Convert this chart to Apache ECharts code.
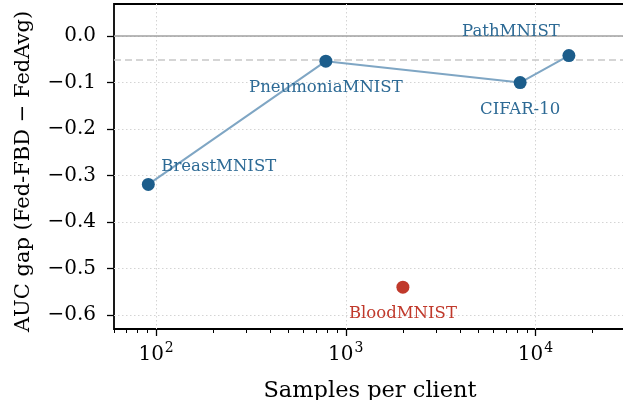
<!DOCTYPE html>
<html>
<head>
<meta charset="utf-8" />
<title>AUC gap vs samples per client</title>
<script src="https://cdn.jsdelivr.net/npm/echarts@6/dist/echarts.min.js"></script>
<style>
  html, body { margin: 0; padding: 0; background: #fff; }
  #chart { width: 623px; height: 400px; }
</style>
</head>
<body>
<div id="chart"></div>
<script>
// datasets joined by the line (sorted by samples per client)
var datasets = ['BreastMNIST', 'PneumoniaMNIST', 'CIFAR-10', 'PathMNIST'];
var samples = [91, 785, 8300, 15000];
var gaps = [-0.319, -0.054, -0.100, -0.042];

// outlier drawn on its own
var outlierNames = ['BloodMNIST'];
var outlierSamples = [2000];
var outlierGaps = [-0.540];

// reference lines
var zeroLine = 0;
var refLine = -0.05;

// ticks
var yTicks = [-0.6, -0.5, -0.4, -0.3, -0.2, -0.1, 0.0];
var xMajorTicks = [100, 1000, 10000];
var xMinorTicks = [60, 70, 80, 90, 200, 300, 400, 500, 600, 700, 800, 900,
                   2000, 3000, 4000, 5000, 6000, 7000, 8000, 9000, 20000, 30000];

var FONT = '"DejaVu Serif", serif';
var GRID_TOP = 4, GRID_BOTTOM = 71, H = 400;

// label placement per dataset (offset from the marker centre)
var labelPlace = {
  'BreastMNIST':    { offset: [13, -18], align: 'left' },
  'PneumoniaMNIST': { offset: [0, 27], align: 'center' },
  'CIFAR-10':       { offset: [0, 27], align: 'center' },
  'PathMNIST':      { offset: [-58, -24], align: 'center' },
  'BloodMNIST':     { offset: [0, 27], align: 'center' }
};

function pointData(names, xs, ys, color) {
  return names.map(function (n, i) {
    var p = labelPlace[n];
    return {
      name: n,
      value: [xs[i], ys[i]],
      label: {
        show: true,
        formatter: n,
        position: 'inside',
        offset: p.offset,
        align: p.align,
        verticalAlign: 'middle',
        color: color,
        fontFamily: FONT,
        fontSize: 16.5
      }
    };
  });
}

var chart = echarts.init(document.getElementById('chart'), null, { renderer: 'canvas' });

var option = {
  animation: false,
  backgroundColor: '#ffffff',
  grid: {
    left: 114, top: GRID_TOP, right: -3, bottom: GRID_BOTTOM,
    outerBoundsMode: 'none',
    containLabel: false,
    show: true,
    borderColor: '#000',
    borderWidth: 1.8,
    backgroundColor: 'transparent'
  },
  xAxis: [{
    type: 'log',
    logBase: 10,
    min: 60,
    max: 30000,
    position: 'bottom',
    name: 'Samples per client',
    nameLocation: 'middle',
    nameGap: 51,
    nameTextStyle: { fontFamily: FONT, fontSize: 22.5, color: '#000' },
    axisLine: { show: false, onZero: false },
    axisTick: { show: true, length: 7, customValues: xMajorTicks,
                lineStyle: { color: '#000', width: 1.3 } },
    axisLabel: {
      customValues: xMajorTicks,
      margin: 12,
      formatter: function (v) {
        return '{b|10}{s|' + Math.round(Math.log10(v)) + '}';
      },
      rich: {
        b: { fontFamily: FONT, fontSize: 20, color: '#000', verticalAlign: 'bottom', lineHeight: 24 },
        s: { fontFamily: FONT, fontSize: 14, color: '#000', verticalAlign: 'top', lineHeight: 24, padding: [0, 0, 8, 1] }
      }
    },
    splitLine: { show: true, lineStyle: { color: '#d4d4d4', width: 1, type: [1.5, 2.5] } }
  }, {
    // minor ticks: a top axis shifted down onto the bottom spine
    type: 'log',
    logBase: 10,
    min: 60,
    max: 30000,
    position: 'top',
    offset: -(H - GRID_TOP - GRID_BOTTOM),
    gridIndex: 0,
    axisLine: { show: false, onZero: false },
    axisTick: { show: true, inside: true, length: 4, customValues: xMinorTicks,
                lineStyle: { color: '#000', width: 1 } },
    axisLabel: { show: false },
    splitLine: { show: false }
  }],
  yAxis: {
    type: 'value',
    min: -0.63,
    max: 0.069,
    name: 'AUC gap (Fed-FBD \u2212 FedAvg)',
    nameLocation: 'middle',
    nameGap: 80,
    nameTextStyle: { fontFamily: FONT, fontSize: 21, color: '#000', padding: [0, 10, 0, 0] },
    axisLine: { show: false, onZero: false },
    axisTick: { show: true, length: 7, customValues: yTicks,
                lineStyle: { color: '#000', width: 1.3 } },
    axisLabel: {
      customValues: yTicks,
      margin: 18,
      fontFamily: FONT,
      fontSize: 20,
      color: '#000',
      formatter: function (v) {
        var s = Math.abs(v).toFixed(1);
        return (v < -1e-9 ? '\u2212' : '') + s;
      }
    },
    splitLine: { show: true, lineStyle: { color: '#d4d4d4', width: 1, type: [1.5, 2.5] } }
  },
  series: [{
    type: 'line',
    xAxisIndex: 0,
    data: pointData(datasets, samples, gaps, '#2d6a95'),
    symbol: 'circle',
    symbolSize: 13,
    showSymbol: true,
    itemStyle: { color: '#1c5d8b' },
    lineStyle: { color: '#7fa6c4', width: 2 },
    z: 5,
    markLine: {
      silent: true,
      symbol: 'none',
      label: { show: false },
      z: 1,
      data: [
        { yAxis: zeroLine, lineStyle: { color: '#a0a0a0', width: 1.5, type: 'solid' } },
        { yAxis: refLine, lineStyle: { color: '#c8c8c8', width: 1.5, type: [7, 4] } }
      ]
    }
  }, {
    type: 'scatter',
    xAxisIndex: 0,
    data: pointData(outlierNames, outlierSamples, outlierGaps, '#c0392b'),
    symbol: 'circle',
    symbolSize: 13,
    itemStyle: { color: '#c0392b', opacity: 1 },
    z: 5
  }]
};

chart.setOption(option);
</script>
</body>
</html>
